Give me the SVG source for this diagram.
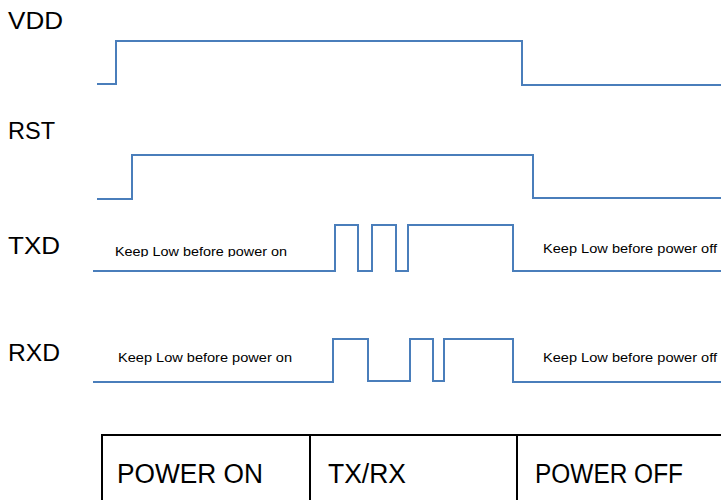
<svg xmlns="http://www.w3.org/2000/svg" width="721" height="500" viewBox="0 0 721 500">
<defs>
<style>
.sig{fill:none;stroke:#4a7ebb;stroke-width:2;stroke-linejoin:miter}
.lbl{font-family:"Liberation Sans",Arial,sans-serif;font-size:24px;fill:#000}
.note{font-family:"Liberation Sans",Arial,sans-serif;font-size:13px;fill:#000}
.cell{font-family:"Liberation Sans",Arial,sans-serif;font-size:27px;fill:#000}
.tbl{fill:none;stroke:#000;stroke-width:2}
</style>
<clipPath id="clipTxd"><rect x="100" y="230" width="200" height="27"/></clipPath>
</defs>
<rect width="721" height="500" fill="#fff"/>
<g id="labels">
<text class="lbl" x="8" y="29" textLength="55" lengthAdjust="spacingAndGlyphs">VDD</text>
<text class="lbl" x="8" y="139" textLength="47" lengthAdjust="spacingAndGlyphs">RST</text>
<text class="lbl" x="8" y="254" textLength="52" lengthAdjust="spacingAndGlyphs">TXD</text>
<text class="lbl" x="8" y="361" textLength="52" lengthAdjust="spacingAndGlyphs">RXD</text>
</g>
<g id="connectors">
<path id="vdd" class="sig" d="M97,84 H116 V41 H522 V85 H721"/>
<path id="rst" class="sig" d="M97,199 H132 V155 H533 V198 H721"/>
<path id="txd" class="sig" d="M93,271 H335 V225 H358 V271 H372 V225 H396 V271 H408 V225 H513 V271 H721"/>
<path id="rxd" class="sig" d="M93,382 H333 V339 H368 V381 H410 V339 H433 V381 H444 V339 H513 V382 H721"/>
</g>
<g id="notes">
<text class="note" x="115" y="256" textLength="172" lengthAdjust="spacingAndGlyphs" clip-path="url(#clipTxd)">Keep Low before power on</text>
<text class="note" x="543" y="253" textLength="174" lengthAdjust="spacingAndGlyphs">Keep Low before power off</text>
<text class="note" x="118" y="362" textLength="174" lengthAdjust="spacingAndGlyphs">Keep Low before power on</text>
<text class="note" x="543" y="362" textLength="174" lengthAdjust="spacingAndGlyphs">Keep Low before power off</text>
</g>
<g id="table">
<path class="tbl" d="M102,501 V435 H722 M310,435 V501 M517,435 V501"/>
<text class="cell" x="117" y="483" textLength="146" lengthAdjust="spacingAndGlyphs">POWER ON</text>
<text class="cell" x="328" y="483" textLength="78" lengthAdjust="spacingAndGlyphs">TX/RX</text>
<text class="cell" x="535" y="483" textLength="148" lengthAdjust="spacingAndGlyphs">POWER OFF</text>
</g>
</svg>
